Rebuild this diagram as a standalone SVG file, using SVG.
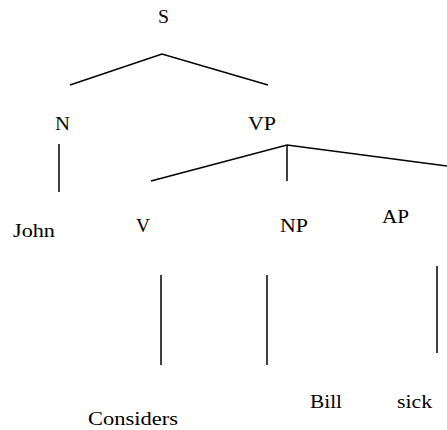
<svg xmlns="http://www.w3.org/2000/svg" width="447" height="430" viewBox="0 0 447 430">
<style>
text{font-family:"Liberation Serif","Times New Roman",serif;font-size:18px;fill:#000}
line,polyline{stroke:#000;stroke-width:1.5;fill:none}
</style>
<rect width="447" height="430" fill="#fff"/>
<g id="connectors">
<polyline points="70,85 162,54 268,85"/>
<line x1="59" y1="144" x2="59" y2="192"/>
<polyline points="151,181 287,145 447,166"/>
<line x1="287" y1="145" x2="287" y2="181"/>
<line x1="161" y1="275" x2="161" y2="365"/>
<line x1="267" y1="275" x2="267" y2="365"/>
<line x1="437" y1="266" x2="437" y2="353"/>
</g>
<g id="node-S"><text x="158" y="23" textLength="11" lengthAdjust="spacingAndGlyphs">S</text></g>
<g id="node-N"><text x="55" y="130" textLength="15" lengthAdjust="spacingAndGlyphs">N</text></g>
<g id="node-VP"><text x="248" y="130" textLength="28" lengthAdjust="spacingAndGlyphs">VP</text></g>
<g id="node-John"><text x="13" y="237" textLength="42" lengthAdjust="spacingAndGlyphs">John</text></g>
<g id="node-V"><text x="136" y="232" textLength="14" lengthAdjust="spacingAndGlyphs">V</text></g>
<g id="node-NP"><text x="280" y="232" textLength="28" lengthAdjust="spacingAndGlyphs">NP</text></g>
<g id="node-AP"><text x="382" y="223" textLength="27" lengthAdjust="spacingAndGlyphs">AP</text></g>
<g id="node-Considers"><text x="88" y="425" textLength="90" lengthAdjust="spacingAndGlyphs">Considers</text></g>
<g id="node-Bill"><text x="310" y="408" textLength="32" lengthAdjust="spacingAndGlyphs">Bill</text></g>
<g id="node-sick"><text x="397" y="408" textLength="35" lengthAdjust="spacingAndGlyphs">sick</text></g>
</svg>
